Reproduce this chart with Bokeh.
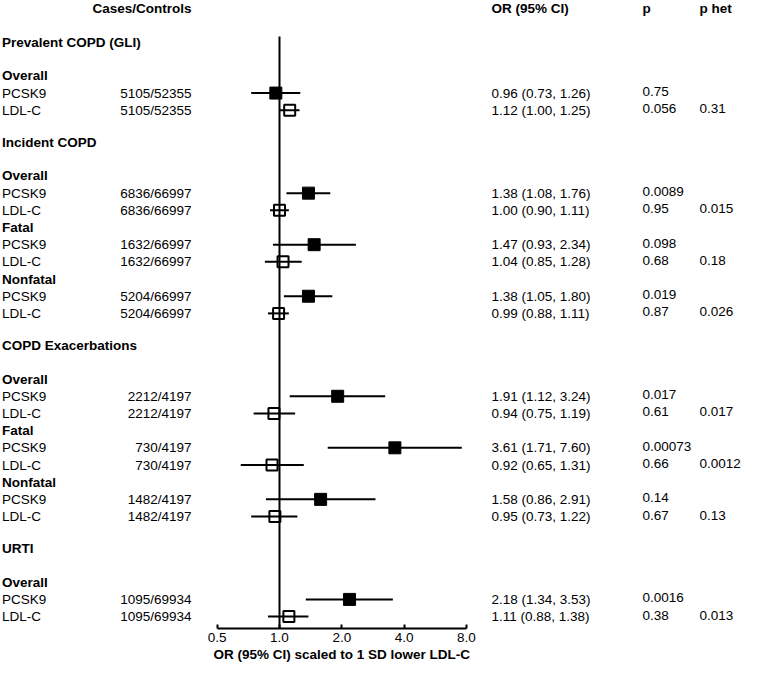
from bokeh.plotting import figure
from bokeh.models import Range1d, ColumnDataSource, FixedTicker, PrintfTickFormatter, LinearScale, Title
from bokeh.core.properties import value
from bokeh.embed import file_html
from bokeh.resources import INLINE

# ---------------- data ----------------
SECTIONS = ["Prevalent COPD (GLI)", "Incident COPD", "COPD Exacerbations", "URTI"]
section_of_row = [0, 0, 1, 1, 1, 1, 1, 1, 2, 2, 2, 2, 2, 2, 3, 3]
subgroup = ["Overall", "Overall", "Overall", "Overall", "Fatal", "Fatal", "Nonfatal", "Nonfatal",
            "Overall", "Overall", "Fatal", "Fatal", "Nonfatal", "Nonfatal", "Overall", "Overall"]
exposure = ["PCSK9", "LDL-C"] * 8
cases_controls = ["5105/52355", "5105/52355", "6836/66997", "6836/66997", "1632/66997", "1632/66997",
                  "5204/66997", "5204/66997", "2212/4197", "2212/4197", "730/4197", "730/4197",
                  "1482/4197", "1482/4197", "1095/69934", "1095/69934"]
odds_ratio = [0.96, 1.12, 1.38, 1.00, 1.47, 1.04, 1.38, 0.99, 1.91, 0.94, 3.61, 0.92, 1.58, 0.95, 2.18, 1.11]
ci_low = [0.73, 1.00, 1.08, 0.90, 0.93, 0.85, 1.05, 0.88, 1.12, 0.75, 1.71, 0.65, 0.86, 0.73, 1.34, 0.88]
ci_high = [1.26, 1.25, 1.76, 1.11, 2.34, 1.28, 1.80, 1.11, 3.24, 1.19, 7.60, 1.31, 2.91, 1.22, 3.53, 1.38]
p_value = ["0.75", "0.056", "0.0089", "0.95", "0.098", "0.68", "0.019", "0.87",
           "0.017", "0.61", "0.00073", "0.66", "0.14", "0.67", "0.0016", "0.38"]
p_het = ["", "0.31", "", "0.015", "", "0.18", "", "0.026",
         "", "0.017", "", "0.0012", "", "0.13", "", "0.013"]
x_ticks = [0.5, 1, 2, 4, 8]
REF_OR = 1.0
column_headers = ["Cases/Controls", "OR (95% CI)", "p", "p het"]
x_title = "OR (95% CI) scaled to 1 SD lower LDL-C"

# ---------------- layout (pixels) ----------------
W, H = 744, 666
FRAME_H = 628
ROW, HEAD_GAP, SECT_GAP, FIRST_Y = 17.18, 33.7, 32.0, 41.7
HEADER_ROW_Y = 8
REF_LINE_TOP = 36
PX_PER_DOUBLING = 62.3
X05_PX = 216.7
X_START = 0.5 * 2 ** (-X05_PX / PX_PER_DOUBLING)
X_END = 0.5 * 2 ** ((W - X05_PX) / PX_PER_DOUBLING)

COL_LABEL, COL_CASES, COL_OR, COL_P, COL_PHET = 1.5, 191, 491, 642, 699
FONT = value("Liberation Sans")
FS = value("13.5px")

head_y, head_txt = [], []
row_y = []
cur = None
prev_sec = prev_sub = None
for i in range(len(exposure)):
    sec = SECTIONS[section_of_row[i]]
    if sec != prev_sec:
        cur = FIRST_Y if cur is None else cur + SECT_GAP
        head_y.append(cur); head_txt.append(sec)
        cur += HEAD_GAP
        head_y.append(cur); head_txt.append(subgroup[i])
    elif subgroup[i] != prev_sub:
        cur += ROW
        head_y.append(cur); head_txt.append(subgroup[i])
    cur += ROW
    row_y.append(cur)
    prev_sec, prev_sub = sec, subgroup[i]

or_text = [f"{o:.2f} ({l:.2f}, {h:.2f})" for o, l, h in zip(odds_ratio, ci_low, ci_high)]

src = ColumnDataSource(dict(y=row_y, yp=[v - 1.5 for v in row_y], exposure=exposure, cc=cases_controls,
                            orv=odds_ratio, lo=ci_low, hi=ci_high, ortxt=or_text, p=p_value, phet=p_het))
pcsk = ColumnDataSource(dict(x=[o for o, e in zip(odds_ratio, exposure) if e == "PCSK9"],
                             y=[y for y, e in zip(row_y, exposure) if e == "PCSK9"]))
ldl = ColumnDataSource(dict(x=[o for o, e in zip(odds_ratio, exposure) if e == "LDL-C"],
                            y=[y for y, e in zip(row_y, exposure) if e == "LDL-C"]))

p = figure(width=W, height=H, x_axis_type="log", y_axis_location=None,
           x_range=Range1d(X_START, X_END), y_range=Range1d(FRAME_H, 0),
           output_backend="svg", toolbar_location=None,
           min_border_left=0, min_border_right=0, min_border_top=0, min_border_bottom=H - FRAME_H)
p.extra_x_ranges = {"px": Range1d(0, W)}
p.extra_x_scales = {"px": LinearScale()}
p.outline_line_color = None
p.grid.visible = False
p.background_fill_color = "white"
p.border_fill_color = "white"

# reference line
p.segment(x0=[REF_OR], x1=[REF_OR], y0=[REF_LINE_TOP], y1=[FRAME_H], line_color="black", line_width=2)
# CIs
p.segment(x0="lo", x1="hi", y0="y", y1="y", source=src, line_color="black", line_width=2)
# markers
p.scatter(x="x", y="y", source=pcsk, marker="square", size=12, fill_color="black", line_color="black", line_width=1)
p.scatter(x="x", y="y", source=ldl, marker="square", size=11, fill_color=None, line_color="black", line_width=2)

# axis
ax = p.xaxis[0]
ax.bounds = (0.5, 8)
ax.ticker = FixedTicker(ticks=x_ticks, minor_ticks=[])
ax.formatter = PrintfTickFormatter(format="%.1f")
ax.axis_line_width = 2
ax.axis_line_color = "black"
ax.major_tick_line_width = 2
ax.major_tick_line_color = "black"
ax.major_tick_in = 4
ax.major_tick_out = 0
ax.minor_tick_line_color = None
ax.major_label_standoff = 4
ax.major_label_text_font = "Liberation Sans"
ax.major_label_text_font_size = "13.5px"
ax.major_label_text_color = "black"

p.add_layout(Title(text=x_title, align="left", offset=213, standoff=0, text_font="Liberation Sans",
                   text_font_size="13.5px", text_font_style="bold", text_color="black"), "below")

common = dict(text_font=FONT, text_font_size=FS, text_color="black", text_baseline="middle", x_range_name="px")
# column headers
p.text(x=[COL_CASES], y=[HEADER_ROW_Y], text=[column_headers[0]], text_align="right", text_font_style="bold", **common)
p.text(x=[COL_OR, COL_P, COL_PHET], y=[HEADER_ROW_Y] * 3, text=column_headers[1:], text_align="left",
       text_font_style="bold", **common)
# section / subgroup headers
p.text(x=[COL_LABEL] * len(head_y), y=head_y, text=head_txt, text_align="left", text_font_style="bold", **common)
# row labels
p.text(x=COL_LABEL, y="y", text="exposure", source=src, text_align="left", **common)
p.text(x=COL_CASES, y="y", text="cc", source=src, text_align="right", **common)
p.text(x=COL_OR, y="y", text="ortxt", source=src, text_align="left", **common)
p.text(x=COL_P, y="yp", text="p", source=src, text_align="left", **common)
p.text(x=COL_PHET, y="yp", text="phet", source=src, text_align="left", **common)

open("out.html", "w").write(file_html(p, INLINE))
